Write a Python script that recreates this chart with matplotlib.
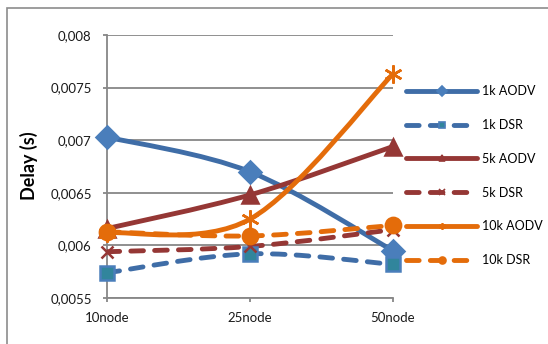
import matplotlib.pyplot as plt
import numpy as np
from matplotlib.lines import Line2D
from matplotlib.patches import PathPatch, Rectangle
from matplotlib.path import Path

plt.rcParams['font.family'] = ['Lato', 'DejaVu Sans']

nodes = ['10node', '25node', '50node']
series_names = ['1k AODV', '1k DSR', '5k AODV', '5k DSR', '10k AODV', '10k DSR']

aodv_1k = [0.00703, 0.00670, 0.00595]
dsr_1k = [0.00574, 0.00592, 0.00582]
aodv_5k = [0.00616, 0.00648, 0.00694]
dsr_5k = [0.00594, 0.00599, 0.00615]
aodv_10k = [0.00612, 0.00625, 0.00763]
dsr_10k = [0.00613, 0.00609, 0.00619]

y_ticks = [0.0055, 0.006, 0.0065, 0.007, 0.0075, 0.008]
y_tick_labels = ['0,0055', '0,006', '0,0065', '0,007', '0,0075', '0,008']

BLUE = '#3F6DA7'
RED = '#953735'
ORANGE = '#E46C0A'
TEAL = '#31859C'

styles = [
    dict(color=BLUE, dashed=False, marker='D', ms=11, mfc='#4A7EBB', mec='#4A7EBB'),
    dict(color=BLUE, dashed=True, marker='s', ms=10, mfc=TEAL, mec='#4A7EBB'),
    dict(color=RED, dashed=False, marker='^', ms=11, mfc=RED, mec=RED),
    dict(color=RED, dashed=True, marker='x', ms=9, mfc=RED, mec=RED),
    dict(color=ORANGE, dashed=False, marker=(6, 2, 0), ms=13, mfc=ORANGE, mec=ORANGE),
    dict(color=ORANGE, dashed=True, marker='o', ms=11, mfc=ORANGE, mec=ORANGE),
]
all_series = [aodv_1k, dsr_1k, aodv_5k, dsr_5k, aodv_10k, dsr_10k]

DASHES = (2.6, 2.3)
LW = 3.5


def smooth_path(xs, ys):
    # cubic bezier through the points, catmull-rom style tangents
    pts = np.column_stack([xs, ys]).astype(float)
    n = len(pts)
    verts = [pts[0]]
    codes = [Path.MOVETO]
    for i in range(n - 1):
        p_prev = pts[max(i - 1, 0)]
        p0 = pts[i]
        p1 = pts[i + 1]
        p_next = pts[min(i + 2, n - 1)]
        c1 = p0 + (p1 - p_prev) / 6.0
        c2 = p1 - (p_next - p0) / 6.0
        verts += [c1, c2, p1]
        codes += [Path.CURVE4] * 3
    return Path(verts, codes)


fig = plt.figure(figsize=(5.48, 3.44), dpi=100)
W, H = 548, 344
ax = fig.add_axes([107 / W, 1 - 298 / H, (393 - 107) / W, (298 - 35) / H])

# outer chart frame
fig.patches.append(Rectangle((7 / W, -0.1), 1.2, (344 - 8) / H + 0.1,
                             transform=fig.transFigure, fill=False,
                             edgecolor='#8C8C8C', lw=1.2, zorder=0))

x = np.arange(len(nodes))
handles = []
for vals, st, name in zip(all_series, styles, series_names):
    patch = PathPatch(smooth_path(x, vals), fill=False, edgecolor=st['color'],
                      lw=LW, capstyle='round', joinstyle='round', zorder=3)
    if st['dashed']:
        patch.set_linestyle((0, DASHES))
    ax.add_patch(patch)
    ax.plot(x, vals, linestyle='none', marker=st['marker'], ms=st['ms'],
            mfc=st['mfc'], mec=st['mec'], mew=1.8, zorder=4, clip_on=False)
    h = Line2D([], [], color=st['color'], lw=LW, marker=st['marker'], ms=5,
               mfc=st['mfc'], mec=st['mec'], mew=1.2,
               solid_capstyle='round', dash_capstyle='round')
    if st['dashed']:
        h.set_dashes(DASHES)
    handles.append(h)

ax.set_xlim(0, len(nodes) - 1)
ax.set_ylim(0.0055, 0.008)
ax.set_yticks(y_ticks)
ax.set_yticklabels(y_tick_labels)
ax.set_xticks(x)
ax.set_xticklabels(nodes)
ax.grid(axis='y', color='#878787', lw=1.3)
ax.set_axisbelow(True)
for side in ['top', 'right']:
    ax.spines[side].set_visible(False)
for side in ['left', 'bottom']:
    ax.spines[side].set_color('#878787')
    ax.spines[side].set_linewidth(1.3)
ax.tick_params(axis='y', length=3, width=1.3, color='#878787', pad=8,
               labelsize=9.5, labelcolor='#1A1A1A')
ax.tick_params(axis='x', length=3, width=1.3, color='#878787', pad=7,
               labelsize=9.5, labelcolor='#1A1A1A')

fig.text(29 / W, 1 - 166 / H, 'Delay (s)', rotation=90, fontsize=13,
         fontweight='bold', ha='center', va='center')

ax.legend(handles, series_names, loc='upper left',
          bbox_to_anchor=(406 / W, 1 - 85 / H), bbox_transform=fig.transFigure,
          frameon=False, fontsize=9, handlelength=5.7, handletextpad=0.4,
          labelspacing=1.75, borderpad=0, borderaxespad=0)

fig.savefig('out.png', dpi=100)
